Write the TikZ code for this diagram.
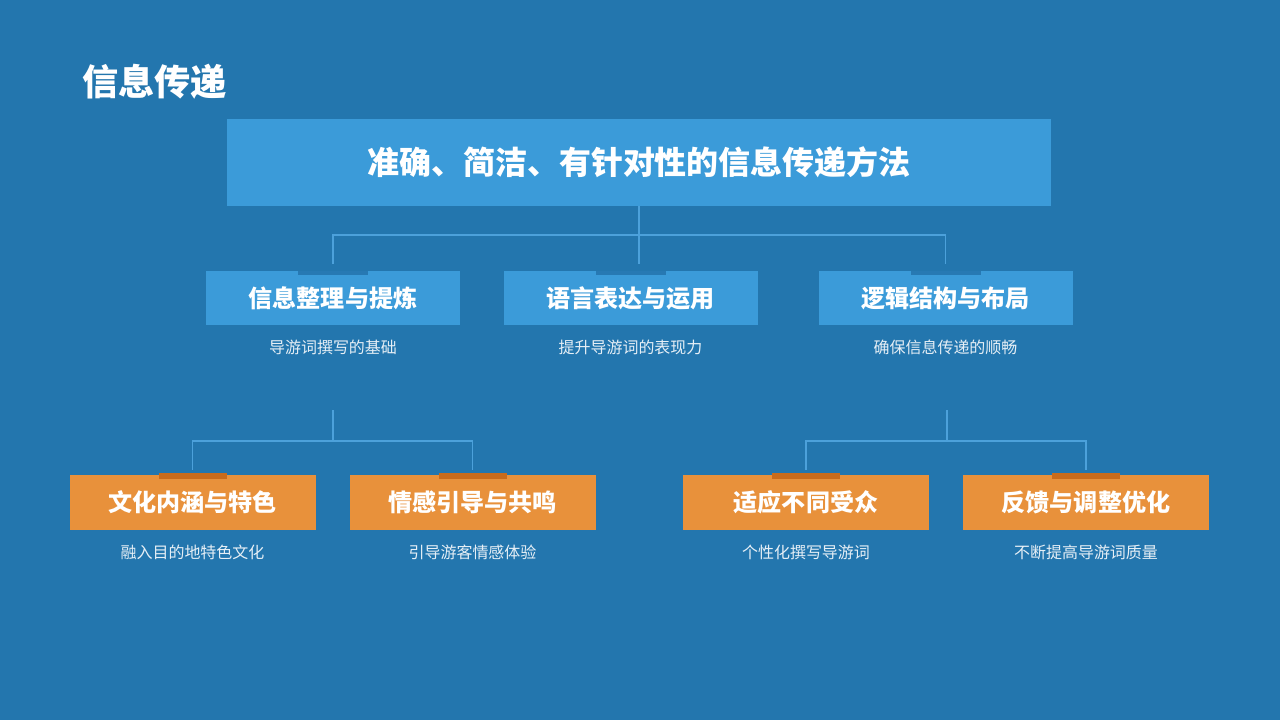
\documentclass[tikz,border=0pt]{standalone}
\usepackage{fontspec}
\setmainfont{Noto Sans CJK SC}
\usepackage{xcolor}
\usepackage{tikz}
\usetikzlibrary{positioning,calc}

\definecolor{hintergrund}{HTML}{2376AE}
\definecolor{kastenblau}{HTML}{3B9BD9}
\definecolor{laschenblau}{HTML}{2779B3}
\definecolor{kastenorange}{HTML}{E8913B}
\definecolor{laschenorange}{HTML}{C96B1B}
\definecolor{linienblau}{HTML}{4CA1DB}
\definecolor{untertext}{HTML}{E6EFF6}

\begin{document}
\begin{tikzpicture}[
    hauptkasten/.style = {fill = kastenblau, inner sep = 0pt, minimum width = 16.48cm, minimum height = 1.74cm, text = white, font = \bfseries\fontsize{18.2}{20}\selectfont},
    blaukasten/.style = {fill = kastenblau, inner sep = 0pt, minimum width = 5.08cm, minimum height = 1.08cm, text = white, font = \bfseries\fontsize{13.7}{15}\selectfont},
    orangekasten/.style = {fill = kastenorange, inner sep = 0pt, minimum width = 4.92cm, minimum height = 1.1cm, text = white, font = \bfseries\fontsize{13.7}{15}\selectfont},
    blaulasche/.style = {fill = laschenblau, inner sep = 0pt, minimum width = 1.4cm, minimum height = 0.08cm, anchor = north},
    orangelasche/.style = {fill = laschenorange, inner sep = 0pt, minimum width = 1.36cm, minimum height = 0.12cm, anchor = north},
    untertitel/.style = {text = untertext, inner sep = 0pt, font = \fontsize{9.1}{11}\selectfont},
    verbindung/.style = {draw = linienblau, line width = 0.7pt}
]
    % Hintergrund
        \fill[hintergrund] (0, 0) rectangle (25.6, 14.4);

    % Überschrift
        \node[text = white, inner sep = 0pt, anchor = west, font = \bfseries\fontsize{20.6}{24}\selectfont] (titel) at (1.64, 12.77) {信息传递};

    % Hauptkasten
        \node[hauptkasten] (haupt) at (12.78, 11.15) {准确、简洁、有针对性的信息传递方法};

    % 1. Ebene
        \node[blaukasten] (b1) at (6.66, 8.44) {信息整理与提炼};
        \node[blaukasten] (b2) at (12.61, 8.44) {语言表达与运用};
        \node[blaukasten] (b3) at (18.91, 8.44) {逻辑结构与布局};
        \node[blaulasche] (l1) at (b1.north) {};
        \node[blaulasche] (l2) at (b2.north) {};
        \node[blaulasche] (l3) at (b3.north) {};
        \node[untertitel] (u1) at (6.66, 7.46) {导游词撰写的基础};
        \node[untertitel] (u2) at (12.61, 7.46) {提升导游词的表现力};
        \node[untertitel] (u3) at (18.91, 7.46) {确保信息传递的顺畅};

    % 2. Ebene
        \node[orangekasten] (o1) at (3.85, 4.35) {文化内涵与特色};
        \node[orangekasten] (o2) at (9.45, 4.35) {情感引导与共鸣};
        \node[orangekasten] (o3) at (16.12, 4.35) {适应不同受众};
        \node[orangekasten] (o4) at (21.72, 4.35) {反馈与调整优化};
        \node[orangelasche] (l4) at ([yshift = 0.04cm]o1.north) {};
        \node[orangelasche] (l5) at ([yshift = 0.04cm]o2.north) {};
        \node[orangelasche] (l6) at ([yshift = 0.04cm]o3.north) {};
        \node[orangelasche] (l7) at ([yshift = 0.04cm]o4.north) {};
        \node[untertitel] (u4) at (3.85, 3.36) {融入目的地特色文化};
        \node[untertitel] (u5) at (9.45, 3.36) {引导游客情感体验};
        \node[untertitel] (u6) at (16.12, 3.36) {个性化撰写导游词};
        \node[untertitel] (u7) at (21.72, 3.36) {不断提高导游词质量};

    % Verbindungen oben
        \coordinate (s1) at (12.8, 9.7);
        \draw[verbindung] (haupt.south) -- ([yshift = 0.14cm]haupt.south |- b2.north);
        \draw[verbindung] ([yshift = 0.14cm]b1.north) |- (s1) -| ([yshift = 0.14cm]b3.north);

    % Verbindungen unten
        \coordinate (k1) at (6.66, 6.2);
        \coordinate (v1) at (6.66, 5.58);
        \coordinate (k2) at (18.94, 6.2);
        \coordinate (v2) at (18.94, 5.58);
        \draw[verbindung] (k1) -- (v1);
        \draw[verbindung] ([yshift = 0.06cm]l4.north) |- (v1) -| ([yshift = 0.06cm]l5.north);
        \draw[verbindung] (k2) -- (v2);
        \draw[verbindung] ([yshift = 0.06cm]l6.north) |- (v2) -| ([yshift = 0.06cm]l7.north);
\end{tikzpicture}
\end{document}
